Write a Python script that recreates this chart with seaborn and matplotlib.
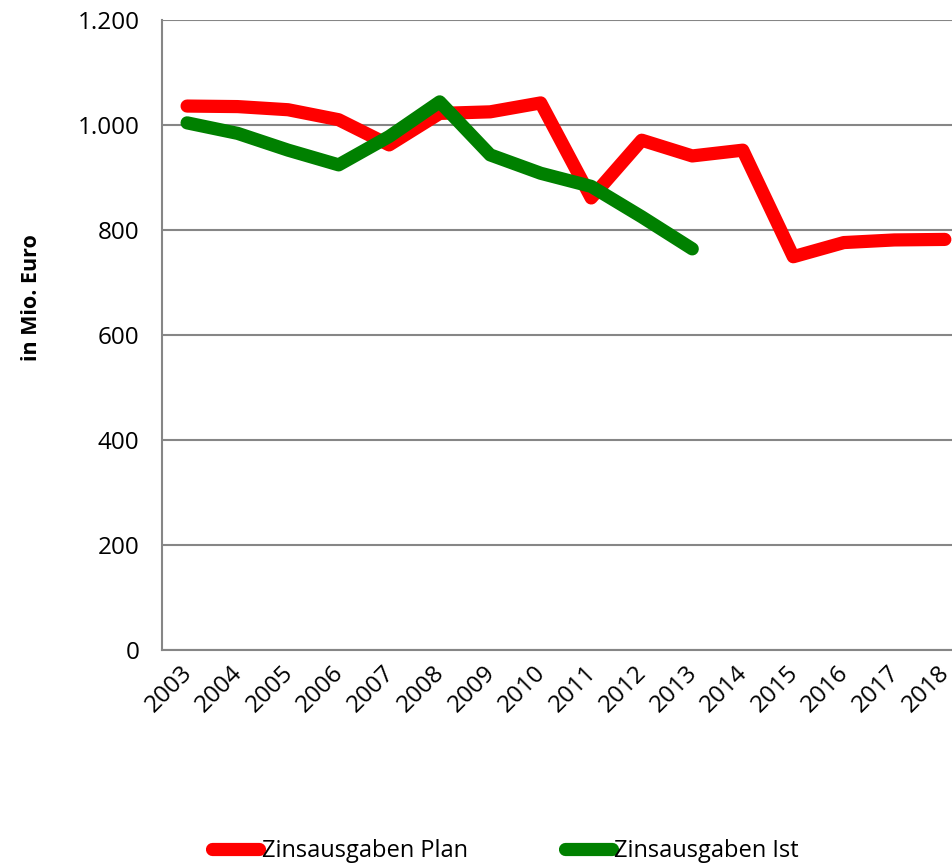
import pandas as pd
import matplotlib
matplotlib.use("Agg")
import matplotlib.pyplot as plt
import matplotlib.ticker as mticker
import matplotlib.transforms as mtransforms
import seaborn as sns

# data (Mio. Euro)
years = [str(y) for y in range(2003, 2019)]
plan = [1036, 1035, 1029, 1010, 962, 1022, 1025, 1042, 861, 971, 941, 952, 749, 776, 781, 782]
ist = [1004, 984, 952, 924, 978, 1044, 943, 908, 883, 825, 764]

series_names = ["Zinsausgaben Plan", "Zinsausgaben Ist"]
colors = ["#FF0000", "#008000"]

df = pd.concat([
    pd.DataFrame({"Jahr": years, "Wert": plan, "Reihe": series_names[0]}),
    pd.DataFrame({"Jahr": years[:len(ist)], "Wert": ist, "Reihe": series_names[1]}),
])

sns.set_style("white")
plt.rcParams["font.family"] = ["Open Sans", "DejaVu Sans"]
plt.rcParams["text.color"] = "black"

fig = plt.figure(figsize=(9.52, 8.64), dpi=100)
ax = fig.add_axes([0.170, 0.2477, 0.849, 0.7292])

sns.lineplot(data=df, x="Jahr", y="Wert", hue="Reihe", palette=colors,
             linewidth=9.5, sort=False, ax=ax, legend=True)
for ln in ax.lines:
    ln.set_solid_capstyle("round")
    ln.set_solid_joinstyle("round")

ax.set_xlim(-0.5, len(years) - 0.5)
ax.set_ylim(0, 1200)
ax.set_yticks(range(0, 1201, 200))
ax.yaxis.set_major_formatter(mticker.FuncFormatter(lambda v, p: f"{int(v):,}".replace(",", ".")))
ax.grid(axis="y", color="#868686", linewidth=1.5)
ax.set_axisbelow(True)

# category labels at centers, tick marks at boundaries
ax.set_xticks(range(len(years)))
ax.set_xticklabels(years, rotation=45, ha="right", rotation_mode="anchor")
ax.set_xticks([i - 0.5 for i in range(len(years) + 1)], minor=True)
ax.tick_params(axis="x", which="major", length=0, pad=8, labelsize=17.5, labelcolor="black")
ax.tick_params(axis="x", which="minor", length=8, width=1.5, color="#868686", direction="out")
ax.tick_params(axis="y", length=8, width=1.5, color="#868686", direction="out",
               labelsize=17.5, labelcolor="black", pad=8)
shift = mtransforms.ScaledTranslation(-7 / 100, 0, fig.dpi_scale_trans)
for lbl in ax.get_xticklabels():
    lbl.set_transform(lbl.get_transform() + shift)

for s in ["top", "right"]:
    ax.spines[s].set_visible(False)
for s in ["left", "bottom"]:
    ax.spines[s].set_color("#868686")
    ax.spines[s].set_linewidth(1.5)

ax.set_xlabel("")
ax.set_ylabel("in Mio. Euro", fontsize=15.5, fontweight="bold", color="black")
ax.yaxis.set_label_coords(-0.148, 0.559)

handles, labels = ax.get_legend_handles_labels()
for h in handles:
    h.set_solid_capstyle("round")
ax.legend(handles, labels, loc="center", bbox_to_anchor=(0.531, 0.015),
          bbox_transform=fig.transFigure,
          ncol=2, frameon=False, fontsize=17, handlelength=2.0, handletextpad=0.1,
          columnspacing=4.1)

fig.savefig("out.png", dpi=100)
